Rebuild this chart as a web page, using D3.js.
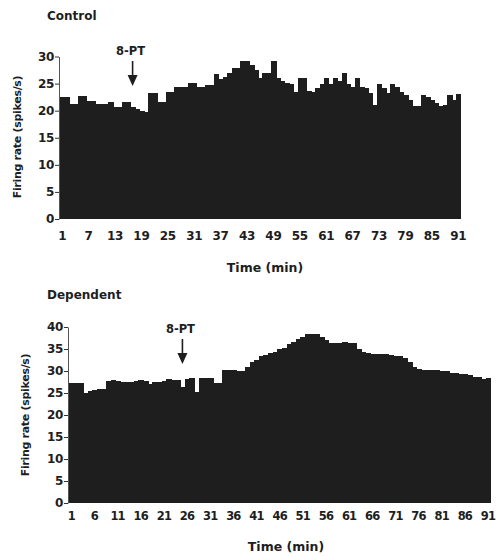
<!DOCTYPE html>
<html>
<head>
<meta charset="utf-8">
<script src="https://cdn.jsdelivr.net/npm/d3@7"></script>
<style>
  body { margin: 0; background: #fff; }
  svg text { font-family: "DejaVu Sans", "Lato", sans-serif; font-weight: bold; fill: #1e1e1e; }
</style>
</head>
<body>
<svg id="chart" width="496" height="556"></svg>
<script>
// minutes 1..91
const minutes = d3.range(1, 92);

const controlRate = [
  22.6, 22.6, 21.3, 21.3, 22.8, 22.8, 21.8, 21.8, 21.3, 21.2,
  21.3, 21.6, 20.7, 20.7, 21.6, 21.6, 20.6, 20.4, 20.0, 19.8,
  23.2, 23.2, 21.6, 21.6, 23.5, 23.5, 24.4, 24.4, 24.4, 25.2,
  25.2, 24.4, 24.4, 24.7, 24.7, 26.8, 25.8, 26.2, 26.9, 27.8,
  27.8, 29.2, 29.2, 28.4, 27.5, 26.0, 26.9, 26.9, 29.2, 26.0,
  25.5, 25.2, 25.0, 23.5, 26.1, 26.1, 23.6, 23.5, 24.1, 25.0,
  26.1, 25.0, 26.1, 25.5, 27.0, 25.0, 24.4, 26.1, 24.4, 24.1,
  23.2, 21.0, 25.0, 24.1, 23.2, 25.0, 24.4, 23.5, 22.9, 22.0,
  20.9, 20.9, 22.9, 22.6, 22.0, 21.5, 20.8, 21.0, 22.9, 22.0,
  23.0
];

const dependentRate = [
  27.2, 27.2, 27.2, 24.9, 25.4, 25.6, 25.9, 26.0, 27.8, 28.0,
  27.8, 27.6, 27.6, 27.4, 27.8, 28.0, 27.8, 27.0, 27.4, 27.6,
  27.8, 28.2, 28.0, 28.0, 26.4, 28.2, 28.5, 25.3, 28.4, 28.5,
  28.5, 27.2, 27.2, 30.2, 30.2, 30.2, 30.0, 29.9, 31.0, 32.1,
  32.5, 33.4, 33.6, 34.0, 34.4, 35.0, 35.3, 36.1, 36.5, 37.3,
  37.8, 38.4, 38.4, 38.4, 37.8, 37.1, 36.4, 36.3, 36.3, 36.6,
  36.4, 36.4, 35.1, 34.3, 34.0, 33.8, 33.8, 33.8, 33.8, 33.6,
  33.3, 33.3, 33.0, 32.1, 30.8, 30.5, 30.3, 30.2, 30.2, 30.2,
  29.9, 29.9, 29.6, 29.6, 29.4, 29.4, 29.2, 28.7, 28.7, 28.1,
  28.4
];

const controlXTicks = [1, 7, 13, 19, 25, 31, 37, 43, 49, 55, 61, 67, 73, 79, 85, 91];
const dependentXTicks = [1, 6, 11, 16, 21, 26, 31, 36, 41, 46, 51, 56, 61, 66, 71, 76, 81, 86, 91];
const controlYTicks = [0, 5, 10, 15, 20, 25, 30];
const dependentYTicks = [0, 5, 10, 15, 20, 25, 30, 35, 40];

const svg = d3.select('#chart');
const barColor = '#1e1e1e';

function drawPanel(p) {
  const g = svg.append('g');

  const x = d3.scaleBand().domain(minutes).range([p.left, p.right]).padding(0);
  const y = d3.scaleLinear().domain([0, p.yMax]).range([p.bottom, p.top]);

  // bars, widened a bit so neighbours merge into one solid block
  g.selectAll('rect.bar')
    .data(p.values)
    .join('rect')
    .attr('class', 'bar')
    .attr('x', (d, i) => x(minutes[i]))
    .attr('y', d => y(d))
    .attr('width', x.bandwidth() + 1)
    .attr('height', d => y(0) - y(d))
    .attr('fill', barColor)
    .attr('shape-rendering', 'crispEdges');

  // y axis
  const yAxis = g.append('g')
    .attr('transform', `translate(${p.left - 1},0)`)
    .call(d3.axisLeft(y).tickValues(p.yTicks).tickSize(4).tickSizeOuter(0).tickPadding(1));
  yAxis.select('.domain').attr('stroke', '#555').attr('stroke-width', 1);
  yAxis.selectAll('.tick line').attr('stroke', '#333');
  yAxis.selectAll('.tick text').style('font-size', '12px').style('letter-spacing', '-0.4px');

  // x axis labels only
  const xAxis = g.append('g')
    .attr('transform', `translate(0,${p.bottom})`)
    .call(d3.axisBottom(x).tickValues(p.xTicks).tickSize(0).tickPadding(p.xPad));
  xAxis.select('.domain').remove();
  xAxis.selectAll('.tick text').style('font-size', p.xFont).style('letter-spacing', p.xSpacing);

  // titles
  g.append('text')
    .attr('x', 47).attr('y', p.titleY)
    .style('font-size', '12px')
    .text(p.title);

  g.append('text')
    .attr('x', p.xTitleX).attr('y', p.xTitleY)
    .attr('text-anchor', 'middle')
    .style('font-size', '12.5px')
    .text('Time (min)');

  g.append('text')
    .attr('transform', `translate(${p.yTitleX},${p.yTitleY}) rotate(-90)`)
    .attr('text-anchor', 'middle')
    .style('font-size', '11px')
    .style('letter-spacing', '-0.3px')
    .text('Firing rate (spikes/s)');

  // drug marker
  const ax = x(p.arrowTime) + x.bandwidth() / 2;
  g.append('text')
    .attr('x', ax - 2).attr('y', p.arrowLabelY)
    .attr('text-anchor', 'middle')
    .style('font-size', '11.5px')
    .text('8-PT');
  g.append('line')
    .attr('x1', ax).attr('x2', ax)
    .attr('y1', p.arrowTop).attr('y2', p.arrowTip - 6)
    .attr('stroke', barColor).attr('stroke-width', 1.6);
  g.append('path')
    .attr('d', `M${ax - 5},${p.arrowTip - 11} L${ax + 5},${p.arrowTip - 11} L${ax},${p.arrowTip} Z`)
    .attr('fill', barColor);
}

drawPanel({
  title: 'Control', titleY: 20,
  values: controlRate, yMax: 30, yTicks: controlYTicks, xTicks: controlXTicks,
  left: 60, right: 460.4, top: 56.5, bottom: 219,
  xPad: 12, xFont: '12px', xSpacing: '-0.3px',
  xTitleX: 265, xTitleY: 272,
  yTitleX: 21, yTitleY: 137,
  arrowTime: 17, arrowLabelY: 55, arrowTop: 61, arrowTip: 86
});

drawPanel({
  title: 'Dependent', titleY: 299,
  values: dependentRate, yMax: 40, yTicks: dependentYTicks, xTicks: dependentXTicks,
  left: 69, right: 490.3, top: 327, bottom: 503,
  xPad: 9, xFont: '11.5px', xSpacing: '-0.8px',
  xTitleX: 286, xTitleY: 551,
  yTitleX: 29, yTitleY: 415,
  arrowTime: 25, arrowLabelY: 333, arrowTop: 339, arrowTip: 364
});
</script>
</body>
</html>
